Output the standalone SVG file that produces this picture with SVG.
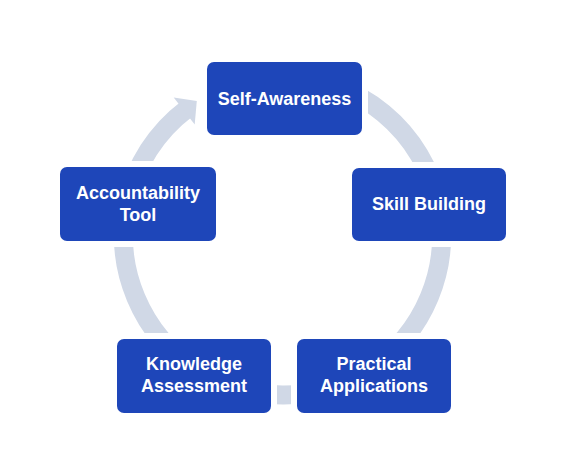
<svg xmlns="http://www.w3.org/2000/svg" width="581" height="472" viewBox="0 0 581 472">
  <style>
    .node rect { fill: #1E46B9; }
    .node text { fill: #FFFFFF; font-family: "Liberation Sans", Arial, sans-serif; font-weight: bold; font-size: 18px; text-anchor: middle; }
    .arc { fill: none; stroke: #D0D8E6; stroke-width: 19; stroke-linecap: butt; }
    .head { fill: #D0D8E6; }
  </style>
  <defs>
    <clipPath id="gaps">
      <path clip-rule="evenodd" d="M0 0H581V472H0Z M201 56H368V141H201Z M346 162H512V247H346Z M291 333H457V419H291Z M111 333H277V419H111Z M54 161H222V247H54Z"/>
    </clipPath>
  </defs>
  <rect width="581" height="472" fill="#FFFFFF"/>
  <g id="connectors" clip-path="url(#gaps)">
    <path class="arc" d="M285.3 77.0 A159 159 0 0 1 438.0 202.9"/>
    <path class="arc" d="M438.0 202.9 A159 159 0 0 1 369.1 369.4"/>
    <path class="arc" d="M369.1 369.4 A159 159 0 0 1 198.2 370.8"/>
    <path class="arc" d="M198.2 370.8 A159 159 0 0 1 127.3 201.6"/>
    <path class="arc" d="M127.3 201.6 A159 159 0 0 1 186.8 109.0"/>
    <polygon class="head" points="173.7,97.6 196.8,101.1 194.7,124.4"/>
  </g>
  <g id="self-awareness" class="node">
    <rect x="207" y="62" width="155" height="73" rx="7"/>
    <text x="284.5" y="105">Self-Awareness</text>
  </g>
  <g id="skill-building" class="node">
    <rect x="352" y="168" width="154" height="73" rx="7"/>
    <text x="429" y="210">Skill Building</text>
  </g>
  <g id="practical-applications" class="node">
    <rect x="297" y="339" width="154" height="74" rx="7"/>
    <text x="374" y="370">Practical</text>
    <text x="374" y="392">Applications</text>
  </g>
  <g id="knowledge-assessment" class="node">
    <rect x="117" y="339" width="154" height="74" rx="7"/>
    <text x="194" y="370">Knowledge</text>
    <text x="194" y="392">Assessment</text>
  </g>
  <g id="accountability-tool" class="node">
    <rect x="60" y="167" width="156" height="74" rx="7"/>
    <text x="138" y="199">Accountability</text>
    <text x="138" y="221">Tool</text>
  </g>
</svg>
